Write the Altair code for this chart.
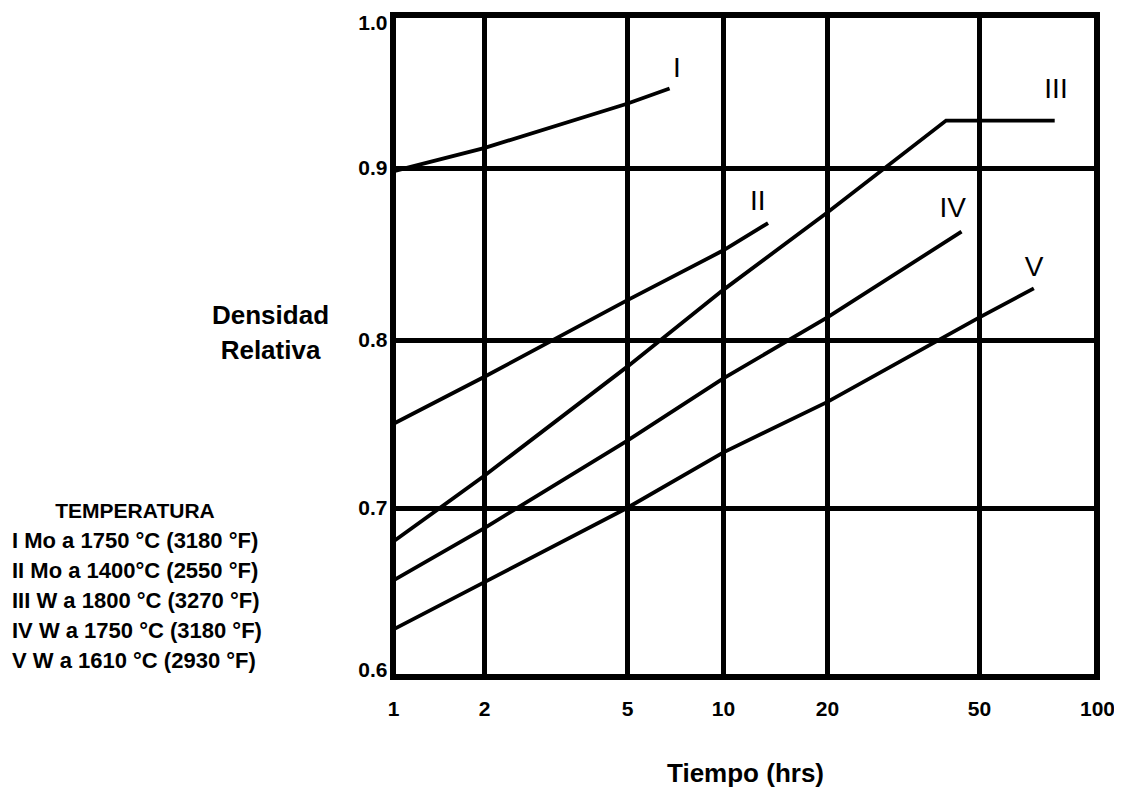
import altair as alt
import pandas as pd

# ---- data ----
series_names = ["I", "II", "III", "IV", "V"]
s1_x = [1, 2, 5, 6.8]
s1_y = [0.898, 0.913, 0.942, 0.952]
s2_x = [1, 2, 5, 10, 13.5]
s2_y = [0.750, 0.778, 0.823, 0.852, 0.868]
s3_x = [1, 2, 5, 10, 20, 41, 78]
s3_y = [0.680, 0.719, 0.784, 0.829, 0.874, 0.931, 0.931]
s4_x = [1, 2, 5, 10, 20, 45]
s4_y = [0.657, 0.688, 0.740, 0.777, 0.813, 0.863]
s5_x = [1, 2, 5, 10, 20, 50, 69]
s5_y = [0.628, 0.656, 0.700, 0.733, 0.763, 0.813, 0.830]

label_x = [7.17, 12.6, 78.6, 42.7, 69.1]
label_y = [0.965, 0.880, 0.951, 0.876, 0.842]

x_ticks = [1, 2, 5, 10, 20, 50, 100]
y_ticks = [0.6, 0.7, 0.8, 0.9, 1.0]

legend_header = "TEMPERATURA"
legend_lines = [
    "I Mo a 1750 °C (3180 °F)",
    "II Mo a 1400°C (2550 °F)",
    "III W a 1800 °C (3270 °F)",
    "IV W a 1750 °C (3180 °F)",
    "V W a 1610 °C (2930 °F)",
]

# ---- build tables ----
rows = []
for name, xs, ys in zip(series_names, [s1_x, s2_x, s3_x, s4_x, s5_x],
                        [s1_y, s2_y, s3_y, s4_y, s5_y]):
    for i, (xv, yv) in enumerate(zip(xs, ys)):
        rows.append({"serie": name, "t": xv, "d": yv, "o": i})
df = pd.DataFrame(rows)
lab = pd.DataFrame({"serie": series_names, "t": label_x, "d": label_y})

W, H = 704, 662
FONT = "Liberation Sans, Arial, sans-serif"

xscale = alt.Scale(type="log", domain=x_ticks,
                   range=[0, 91, 234, 330, 434, 586, W], nice=False)
yscale = alt.Scale(domain=y_ticks, range=[H, 493, 325, 153, 0],
                   nice=False, zero=False)

x_enc = alt.X("t:Q", scale=xscale,
              axis=alt.Axis(values=x_ticks, title="Tiempo (hrs)",
                            format="d", labelPadding=21,
                            labelFontSize=21, labelFontWeight="bold",
                            labelFlush=False, labelOverlap=False,
                            titleFontSize=26, titleFontWeight="bold",
                            titleBaseline="alphabetic", titleY=104))
y_enc = alt.Y("d:Q", scale=yscale,
              axis=alt.Axis(values=y_ticks, format=".1f",
                            title=["Densidad", "Relativa"],
                            labelPadding=6, labelFontSize=21,
                            labelFontWeight="bold", labelFlush=True,
                            labelFlushOffset=3, labelOverlap=False,
                            titleAngle=0, titleAlign="center",
                            titleBaseline="middle", titleX=-123, titleY=300,
                            titleFontSize=26, titleFontWeight="bold",
                            titleLineHeight=35))

lines = alt.Chart(df).mark_line(color="black", strokeWidth=3.8).encode(
    x=x_enc, y=y_enc, detail="serie:N", order="o:Q")

labels = alt.Chart(lab).mark_text(fontSize=28, font=FONT, color="black",
                                  align="center", baseline="middle").encode(
    x=alt.X("t:Q", scale=xscale), y=alt.Y("d:Q", scale=yscale), text="serie:N")

hdr = alt.Chart(pd.DataFrame({"txt": [legend_header]})).mark_text(
    fontSize=21, fontWeight="bold", font=FONT, color="black",
    align="center", baseline="middle").encode(
    text="txt:N", x=alt.value(-258), y=alt.value(497))

body = alt.Chart(pd.DataFrame({"txt": ["\n".join(legend_lines)]})).mark_text(
    fontSize=22, fontWeight="bold", font=FONT, color="black",
    align="left", baseline="top", lineBreak="\n", lineHeight=30).encode(
    text="txt:N", x=alt.value(-381), y=alt.value(516))

chart = alt.layer(lines, labels, hdr, body).properties(
    width=W, height=H,
    padding={"left": 385, "top": 7, "right": 17, "bottom": 110},
    autosize="none",
    background="white",
).configure_view(
    stroke="black", strokeWidth=6
).configure_axis(
    grid=True, gridColor="black", gridWidth=5, gridOpacity=1,
    domain=False, ticks=False,
    labelFont=FONT, titleFont=FONT, labelColor="black", titleColor="black",
).configure_text(font=FONT)

chart.save("out.html", embed_options={"renderer": "svg", "actions": False})
